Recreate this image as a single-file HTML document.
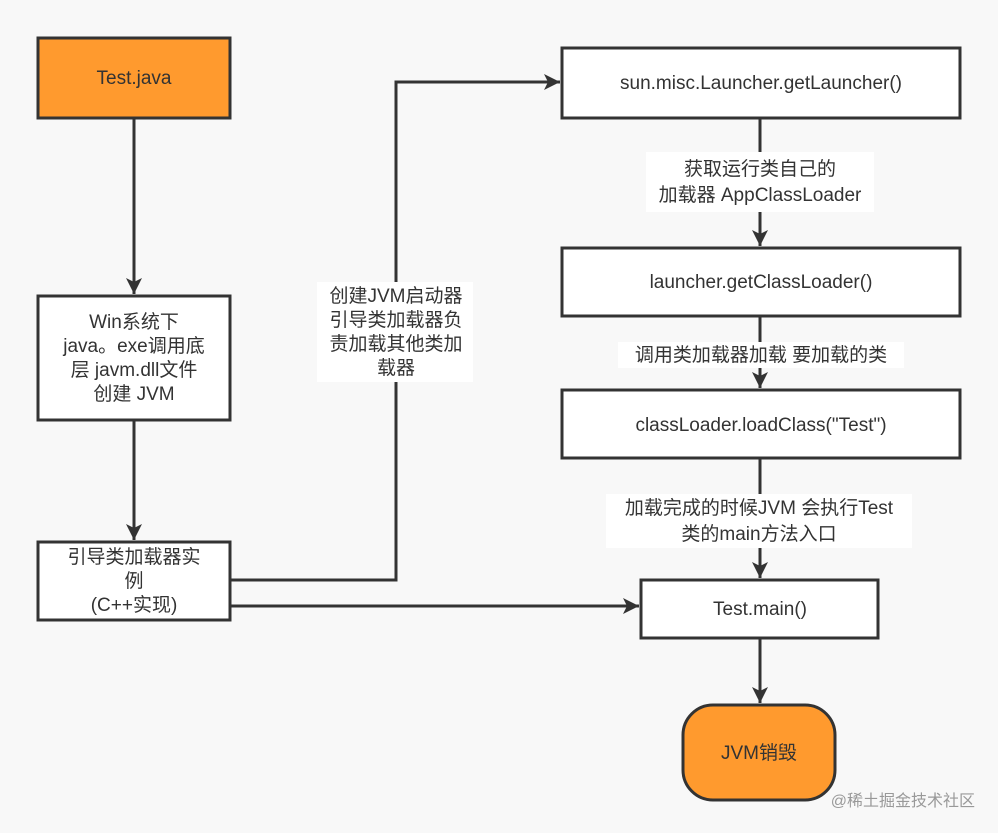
<!DOCTYPE html>
<html><head><meta charset="utf-8"><style>
body{margin:0;background:#f8f8f8}
svg{display:block}
text{font-family:"Liberation Sans","Noto Sans CJK SC",sans-serif;font-size:19px;fill:#333}
</style></head><body>
<svg width="998" height="833" viewBox="0 0 998 833" xmlns="http://www.w3.org/2000/svg">
<defs>
<marker id="b" markerWidth="18" markerHeight="18" refX="16" refY="8" orient="auto" markerUnits="userSpaceOnUse"><path d="M0,0 L16,8 L0,16 L4,8 Z" fill="#333"/></marker></defs>
<g stroke="#333" stroke-width="3" fill="none">
<line x1="134" y1="118" x2="134" y2="294" marker-end="url(#b)"/>
<line x1="134" y1="420" x2="134" y2="540" marker-end="url(#b)"/>
<polyline points="230,580 396,580 396,82 560,82" marker-end="url(#b)"/>
<line x1="230" y1="606" x2="639" y2="606" marker-end="url(#b)"/>
<line x1="760" y1="118" x2="760" y2="246" marker-end="url(#b)"/>
<line x1="760" y1="316" x2="760" y2="388" marker-end="url(#b)"/>
<line x1="760" y1="458" x2="760" y2="578" marker-end="url(#b)"/>
<line x1="760" y1="638" x2="760" y2="703" marker-end="url(#b)"/>
</g>
<g stroke="#333" stroke-width="3">
<rect x="38" y="38" width="192" height="80" fill="#ff9a2e"/>
<rect x="38" y="296" width="192" height="124" fill="#fff"/>
<rect x="38" y="542" width="192" height="78" fill="#fff"/>
<rect x="562" y="48" width="398" height="70" fill="#fff"/>
<rect x="562" y="248" width="398" height="68" fill="#fff"/>
<rect x="562" y="390" width="398" height="68" fill="#fff"/>
<rect x="641" y="580" width="237" height="58" fill="#fff"/>
<rect x="683" y="705" width="152" height="95" rx="30" fill="#ff9a2e"/>
</g>
<g fill="#fff">
<rect x="317" y="282" width="156" height="100"/>
<rect x="646" y="152" width="228" height="60"/>
<rect x="618" y="342" width="286" height="26"/>
<rect x="606" y="494" width="306" height="54"/>
</g>
<g text-anchor="middle">
<text x="134" y="84">Test.java</text>
<text x="134" y="328">Win系统下</text>
<text x="134" y="352">java。exe调用底</text>
<text x="134" y="376">层 javm.dll文件</text>
<text x="134" y="400">创建 JVM</text>
<text x="134" y="563">引导类加载器实</text>
<text x="134" y="587">例</text>
<text x="134" y="611">(C++实现)</text>
<text x="396" y="302">创建JVM启动器</text>
<text x="396" y="326">引导类加载器负</text>
<text x="396" y="350">责加载其他类加</text>
<text x="396" y="374">载器</text>
<text x="761" y="89">sun.misc.Launcher.getLauncher()</text>
<text x="760" y="175">获取运行类自己的</text>
<text x="760" y="201">加载器 AppClassLoader</text>
<text x="761" y="288">launcher.getClassLoader()</text>
<text x="761" y="361">调用类加载器加载 要加载的类</text>
<text x="761" y="431">classLoader.loadClass("Test")</text>
<text x="759" y="514">加载完成的时候JVM 会执行Test</text>
<text x="759" y="540">类的main方法入口</text>
<text x="760" y="615">Test.main()</text>
<text x="759" y="759">JVM销毁</text>
</g>
<text x="975" y="806" text-anchor="end" style="font-size:16px;fill:#999">@稀土掘金技术社区</text>
</svg>
</body></html>
